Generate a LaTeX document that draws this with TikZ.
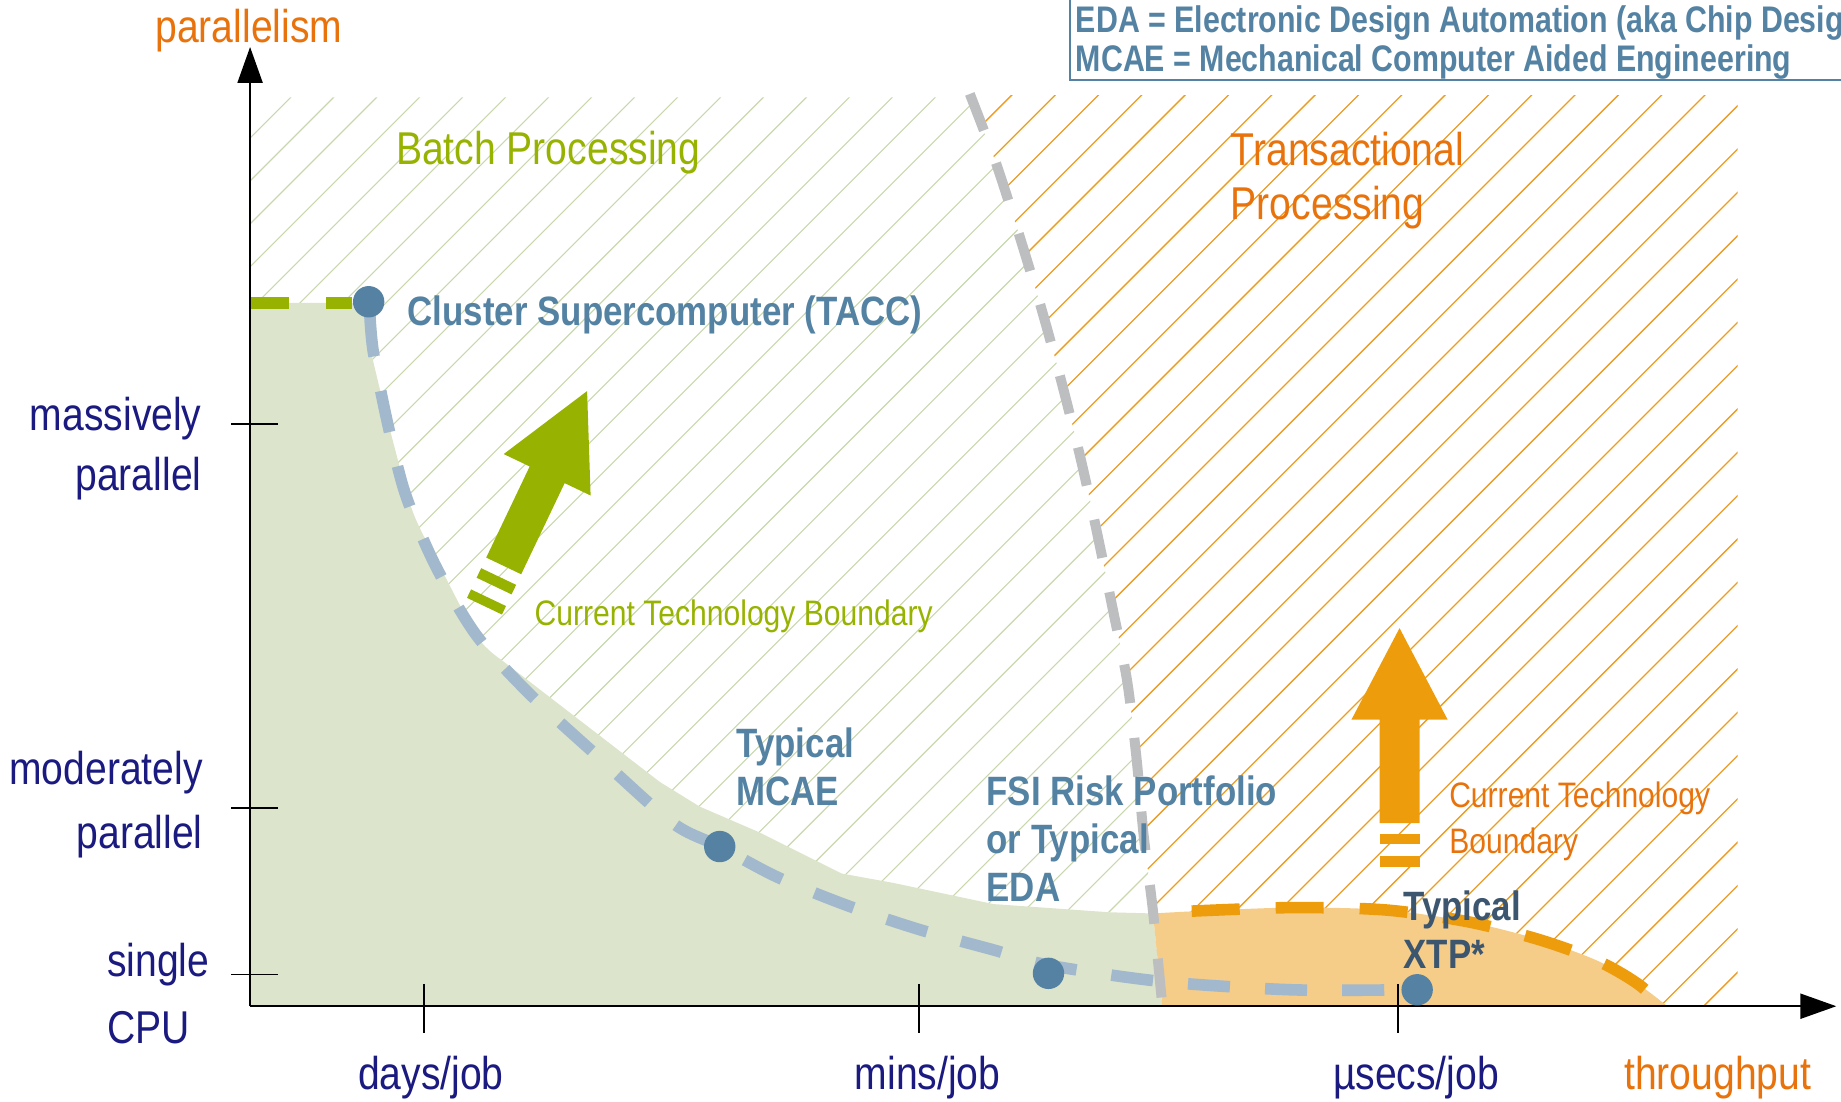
\documentclass[tikz,border=0pt]{standalone}
\usepackage{fontspec}
\setmainfont{Liberation Sans}[FakeStretch=0.85]
\newfontfamily\bnf{Liberation Sans}[FakeStretch=0.85]
\newfontfamily\bnl{Liberation Sans}[FakeStretch=0.82]
\usetikzlibrary{arrows.meta}
\definecolor{cgreen}{RGB}{151,178,0}
\definecolor{corange}{RGB}{232,114,12}
\definecolor{carrow}{RGB}{237,156,12}
\definecolor{cofill}{RGB}{245,204,136}
\definecolor{cgfill}{RGB}{220,228,203}
\definecolor{cbdash}{RGB}{162,184,205}
\definecolor{cgray}{RGB}{189,190,192}
\definecolor{cdot}{RGB}{85,129,162}
\definecolor{ctext}{RGB}{84,130,163}
\definecolor{cdark}{RGB}{59,86,110}
\definecolor{cnavy}{RGB}{26,26,128}
\definecolor{cghatch}{RGB}{200,215,172}
\definecolor{cohatch}{RGB}{236,156,32}
\tikzset{
  axisline/.style={line width=1.1pt, draw=black, -{Triangle[length=18pt,width=12.5pt]}},
  tickline/.style={line width=0.9pt, draw=black},
  ghatch/.style={draw=cghatch, line width=0.55pt},
  ohatch/.style={draw=cohatch, line width=0.65pt},
  graydash/.style={draw=cgray, line width=5pt, dash pattern=on 19.5pt off 17.5pt},
  bluedash/.style={draw=cbdash, line width=5.8pt, dash pattern=on 21pt off 17.6pt},
  orangedash/.style={draw=carrow, line width=5.8pt, dash pattern=on 24pt off 18pt},
  greendash/.style={draw=cgreen, line width=5.8pt, dash pattern=on 19.4pt off 18.8pt},
  dot/.style={circle, fill=cdot, minimum size=15.7pt, inner sep=0pt},
  axlbl/.style={text=cnavy, inner sep=0pt, font=\fontsize{23}{30}\selectfont},
  reglbl/.style={inner sep=0pt, font=\fontsize{23}{27}\selectfont},
  smalllbl/.style={inner sep=0pt, font=\fontsize{17.7}{23}\selectfont},
  boldlbl/.style={text=ctext, inner sep=0pt, align=left, font=\bnf\bfseries\fontsize{20.5}{24}\selectfont},
  legendlbl/.style={text=ctext, inner sep=0pt, align=left, font=\bnl\bfseries\fontsize{18.5}{19.6}\selectfont},
}
\begin{document}
\begin{tikzpicture}[x=0.58705pt,y=-0.58705pt]
\useasboundingbox (0,0) rectangle (1568,938);

% hatching, green part
\begin{scope}
\clip (213,83) -- plot[smooth] coordinates {(826,83) (848,138) (868,200) (887,263) (904,325) (920,389) (934,452) (948,520) (960,580) (968,646) (974,711) (982,776) (990,857)} -- (213,857) -- cycle;
\foreach \k in {-2,...,45} {
  \draw[ghatch] ({330.5+36.6*\k},0) -- ({330.5+36.6*\k-1000},1000);
}
\end{scope}
% hatching, orange part
\begin{scope}
\clip (826,81) -- plot[smooth] coordinates {(826,81) (848,138) (868,200) (887,263) (904,325) (920,389) (934,452) (948,520) (960,580) (968,646) (974,711) (982,776) (990,857)} -- (1480,857) -- (1480,81) -- cycle;
\foreach \k in {-10,...,40} {
  \draw[ohatch] ({1201+36.9*\k},0) -- ({1201+36.9*\k-1000},1000);
}
\end{scope}

% fills
\fill[cgfill] (213,857) -- (213,258) -- (308,258) -- plot[smooth] coordinates {(308,258) (317,304) (335,377) (352,437) (376,485) (407,543) (427,562)} -- (562,666) -- (596,687) -- (647,709) -- (717,744) -- (761,752) -- (846,770) -- (945,777) -- (982,778) -- (990,857) -- cycle;
\fill[cofill] (982,778) -- plot[smooth] coordinates {(982,778) (1020,776) (1100,773) (1180,775) (1250,785) (1310,800) (1360,818) (1395,838) (1420,857)} -- (990,857) -- cycle;

% boundary curves
\draw[bluedash] plot[smooth] coordinates {(315,268) (318,300) (330,360) (345,420) (370,480) (405,540) (450,590) (510,645) (573,701) (613,721) (662,747) (721,771) (784,792) (846,809) (893,822) (990,836) (1100,843) (1195,843)};
\draw[graydash] plot[smooth] coordinates {(826,80) (848,138) (868,200) (887,263) (904,325) (920,389) (934,452) (948,520) (960,580) (968,646) (974,711) (982,776) (990,857)};
\draw[orangedash] plot[smooth] coordinates {(1015,776) (1100,773) (1180,775) (1250,785) (1310,800) (1360,818) (1395,838) (1422,862)};
\coordinate (gstart) at (213,258);
\coordinate (gend) at (300,258);
\draw[greendash] (gstart) -- (gend);

% axes
\coordinate (O) at (213,857);
\coordinate (ytop) at (213,40);
\coordinate (xend) at (1564,857);
\draw[axisline] (O) -- (ytop);
\draw[axisline] (O) -- (xend);
\foreach \yy/\nm in {361/ya,688/yb,830/yc} {
  \coordinate (\nm l) at (197,\yy); \coordinate (\nm r) at (237,\yy);
  \draw[tickline] (\nm l) -- (\nm r);
}
\foreach \xx/\nm in {361/xa,783/xb,1191/xc} {
  \coordinate (\nm t) at (\xx,838); \coordinate (\nm b) at (\xx,880);
  \draw[tickline] (\nm t) -- (\nm b);
}

% green arrow
\begin{scope}[shift={(429,482)}, rotate=64.5]
\fill[cgreen] (0,-16.5) -- (86,-16.5) -- (86,-41) -- (165,0) -- (86,41) -- (86,16.5) -- (0,16.5) -- cycle;
\fill[cgreen] (-19,-16.5) rectangle (-10,16.5);
\fill[cgreen] (-38,-16.5) rectangle (-30,16.5);
\end{scope}
% orange arrow
\fill[carrow] (1175,701) -- (1175,613) -- (1151,613) -- (1192,535) -- (1233,613) -- (1209,613) -- (1209,701) -- cycle;
\fill[carrow] (1175,710) rectangle (1209,719);
\fill[carrow] (1175,729) rectangle (1209,738);

% dots
\node[dot] (tacc) at (314,257) {};
\node[dot] (mcae) at (613,721) {};
\node[dot] (fsi) at (893,829) {};
\node[dot] (xtp) at (1207,843) {};

% labels (multi-line nodes are anchored at the baseline of their last line)
\node[reglbl, text=corange, anchor=base] (par) at (212,36) {parallelism};
\node[reglbl, text=corange, anchor=base] (thr) at (1463,928) {throughput};
\node[axlbl, anchor=base east, align=right] (mp) at (172,418) {massively\\parallel};
\node[axlbl, anchor=base east, align=right, font=\fontsize{23}{32}\selectfont] (mod) at (173,723) {moderately\\parallel};
\node[axlbl, anchor=base west, align=left, font=\fontsize{23}{33.5}\selectfont] (sc) at (91,889) {single\\CPU};
\node[axlbl, anchor=base] (dj) at (367,928) {days/job};
\node[axlbl, anchor=base] (mj) at (790,928) {mins/job};
\node[axlbl, anchor=base] (uj) at (1206,928) {µsecs/job};

\node[reglbl, text=cgreen, anchor=base west] (batch) at (337,140) {Batch Processing};
\node[reglbl, text=corange, anchor=base west, align=left] (trans) at (1048,187) {Transactional\\Processing};
\node[smalllbl, text=cgreen, anchor=base west] (ctb1) at (455,533) {Current Technology Boundary};
\node[smalllbl, text=corange, anchor=base west, align=left] (ctb2) at (1234,727) {Current Technology\\Boundary};

\node[boldlbl, anchor=base west] (taccl) at (347,277) {Cluster Supercomputer (TACC)};
\node[boldlbl, anchor=base west] (mcael) at (627,686) {Typical\\MCAE};
\node[boldlbl, anchor=base west] (fsil) at (840,768) {FSI Risk Portfolio\\or Typical\\EDA};
\node[boldlbl, text=cdark, anchor=base west] (xtpl) at (1195,825) {Typical\\XTP*};

% legend
\coordinate (lgA) at (911,-10);
\coordinate (lgB) at (1600,68);
\draw[ctext, line width=1pt] (lgA) rectangle (lgB);
\node[legendlbl, anchor=base west] (legend) at (916,61) {EDA = Electronic Design Automation (aka Chip Desig\\MCAE = Mechanical Computer Aided Engineering};
\end{tikzpicture}
\end{document}
